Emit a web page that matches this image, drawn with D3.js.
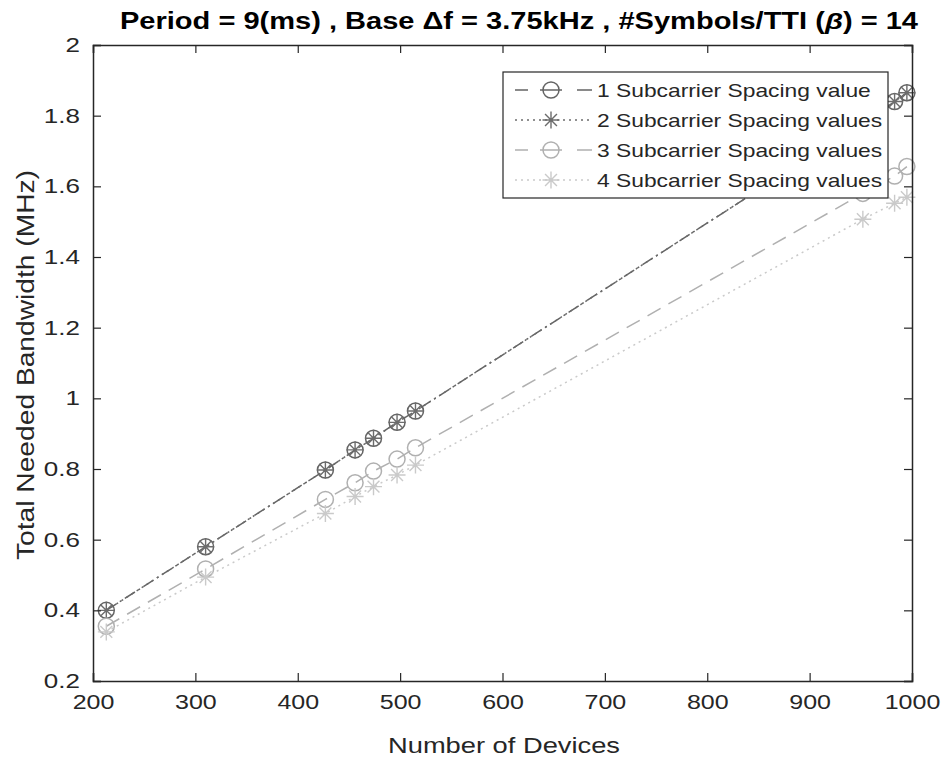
<!DOCTYPE html>
<html>
<head>
<meta charset="utf-8">
<script src="https://cdn.jsdelivr.net/npm/d3@7"></script>
<style>
  body { margin: 0; background: #fff; }
  text { font-family: "Liberation Sans", Arial, sans-serif; }
</style>
</head>
<body>
<script>
// devices on the x axis
var devices = [213, 310, 427, 456, 474, 497, 515, 952, 983, 995];
// bandwidth (MHz) for each series
var bw1 = [0.40, 0.58, 0.797, 0.854, 0.887, 0.932, 0.964, 1.78, 1.84, 1.865];
var bw2 = [0.40, 0.58, 0.797, 0.854, 0.887, 0.932, 0.964, 1.78, 1.84, 1.865];
var bw3 = [0.355, 0.517, 0.714, 0.761, 0.794, 0.828, 0.860, 1.58, 1.629, 1.656];
var bw4 = [0.339, 0.494, 0.674, 0.722, 0.750, 0.783, 0.811, 1.507, 1.552, 1.569];
var seriesNames = ["1 Subcarrier Spacing value", "2 Subcarrier Spacing values",
                   "3 Subcarrier Spacing values", "4 Subcarrier Spacing values"];
var xTicks = [200, 300, 400, 500, 600, 700, 800, 900, 1000];
var yTicks = [0.2, 0.4, 0.6, 0.8, 1, 1.2, 1.4, 1.6, 1.8, 2];

var styles = [
  {color: "#646464", dash: "12,4,2,4", marker: "circle", legDash: "13,12,22,15,15"},
  {color: "#6c6c6c", dash: "2,4", marker: "star", legDash: "2,4"},
  {color: "#b0b0b0", dash: "15,9", marker: "circle", legDash: "13,12,22,15,15"},
  {color: "#cacaca", dash: "2,4", marker: "star", legDash: "2,4"}
];

var margin = {top: 45, right: 34, bottom: 80, left: 93};
var width = 946 - margin.left - margin.right;
var height = 761 - margin.top - margin.bottom;

var svg = d3.select("body").append("svg")
  .attr("width", 946).attr("height", 761);
var g = svg.append("g")
  .attr("transform", "translate(" + margin.left + "," + margin.top + ")");

var xScale = d3.scaleLinear().domain([200, 1000]).range([0, width]);
var yScale = d3.scaleLinear().domain([0.2, 2]).range([height, 0]);

var series = [bw1, bw2, bw3, bw4];

// widen text horizontally (the reference is stretched sideways)
function stretch(sel, factor) {
  sel.each(function() {
    var w = this.getComputedTextLength();
    d3.select(this).attr("textLength", w * factor).attr("lengthAdjust", "spacingAndGlyphs");
  });
}

var line = d3.line()
  .x(function(d){ return xScale(d[0]); })
  .y(function(d){ return yScale(d[1]); });

function drawMarker(sel, type, color) {
  if (type === "circle") {
    sel.append("circle").attr("r", 8)
      .attr("fill", "none").attr("stroke", color).attr("stroke-width", 1.5);
  } else {
    var r = 8.5;
    var p = "M" + (-r) + ",0L" + r + ",0M0," + (-r) + "L0," + r +
      "M" + (-r*0.7) + "," + (-r*0.7) + "L" + (r*0.7) + "," + (r*0.7) +
      "M" + (-r*0.7) + "," + (r*0.7) + "L" + (r*0.7) + "," + (-r*0.7);
    sel.append("path").attr("d", p)
      .attr("fill", "none").attr("stroke", color).attr("stroke-width", 1.4);
  }
}

var plot = g.append("g");
series.forEach(function(vals, i) {
  var pts = devices.map(function(x, j){ return [x, vals[j]]; });
  plot.append("path").datum(pts)
    .attr("d", line)
    .attr("fill", "none")
    .attr("stroke", styles[i].color)
    .attr("stroke-width", 1.5)
    .attr("stroke-dasharray", styles[i].dash);
  pts.forEach(function(p) {
    var m = plot.append("g")
      .attr("transform", "translate(" + xScale(p[0]) + "," + yScale(p[1]) + ")");
    drawMarker(m, styles[i].marker, styles[i].color);
  });
});

// axes with inward ticks, box on
var axisColor = "#262626";
var xAxis = d3.axisBottom(xScale).tickValues(xTicks).tickSize(-8).tickPadding(16)
  .tickFormat(d3.format("d"));
var yAxis = d3.axisLeft(yScale).tickValues(yTicks).tickSize(-8).tickPadding(13)
  .tickFormat(function(d){ return d3.format("~g")(d); });

var gx = g.append("g").attr("transform", "translate(0," + height + ")").call(xAxis);
var gy = g.append("g").call(yAxis);
var gxt = g.append("g").call(d3.axisTop(xScale).tickValues(xTicks).tickSize(-8).tickFormat(""));
var gyr = g.append("g").attr("transform", "translate(" + width + ",0)")
  .call(d3.axisRight(yScale).tickValues(yTicks).tickSize(-8).tickFormat(""));

[gx, gy, gxt, gyr].forEach(function(a) {
  a.select(".domain").attr("stroke", axisColor).attr("stroke-width", 1.5);
  a.selectAll(".tick line").attr("stroke", axisColor).attr("stroke-width", 1.2);
  a.selectAll(".tick text").attr("fill", "#262626")
    .style("font-size", "20px").style("font-family", "'Liberation Sans', Arial, sans-serif");
});
gx.selectAll(".tick text").attr("dy", "0.6em");
stretch(gx.selectAll(".tick text"), 1.25);
stretch(gy.selectAll(".tick text"), 1.3);

// axis labels
var xl = svg.append("text")
  .attr("x", 504).attr("y", 753)
  .attr("text-anchor", "middle")
  .style("font-size", "22px").attr("fill", "#262626")
  .text("Number of Devices");
xl.attr("textLength", 232).attr("lengthAdjust", "spacingAndGlyphs");
var yl = svg.append("text")
  .attr("transform", "translate(34,365) rotate(-90)")
  .attr("text-anchor", "middle")
  .style("font-size", "23px").attr("fill", "#262626")
  .text("Total Needed Bandwidth (MHz)");
yl.attr("textLength", 390).attr("lengthAdjust", "spacingAndGlyphs");

// title
var title = svg.append("text")
  .attr("x", 519).attr("y", 29)
  .attr("text-anchor", "middle")
  .attr("textLength", 798).attr("lengthAdjust", "spacingAndGlyphs")
  .style("font-size", "23px").style("font-weight", "bold").attr("fill", "#000");
title.append("tspan").text("Period = 9(ms) , Base \u0394f = 3.75kHz , #Symbols/TTI (");
title.append("tspan").style("font-style", "italic").text("\u03b2");
title.append("tspan").text(") = 14");

// legend
var legend = g.append("g").attr("transform", "translate(" + (503 - margin.left) + "," + (72 - margin.top) + ")");
legend.append("rect")
  .attr("width", 385).attr("height", 126)
  .attr("fill", "#fff").attr("stroke", axisColor).attr("stroke-width", 1.2);
seriesNames.forEach(function(name, i) {
  var yy = 18 + i * 30;
  var row = legend.append("g").attr("transform", "translate(0," + yy + ")");
  row.append("line")
    .attr("x1", 12).attr("x2", 89).attr("y1", 0).attr("y2", 0)
    .attr("stroke", styles[i].color).attr("stroke-width", 1.5)
    .attr("stroke-dasharray", styles[i].legDash);
  var m = row.append("g").attr("transform", "translate(48,0)");
  drawMarker(m, styles[i].marker, styles[i].color);
  var t = row.append("text")
    .attr("x", 94).attr("y", 0).attr("dy", "0.36em")
    .style("font-size", "19px").attr("fill", "#262626")
    .text(name);
  stretch(t, 1.2);
});
</script>
</body>
</html>
